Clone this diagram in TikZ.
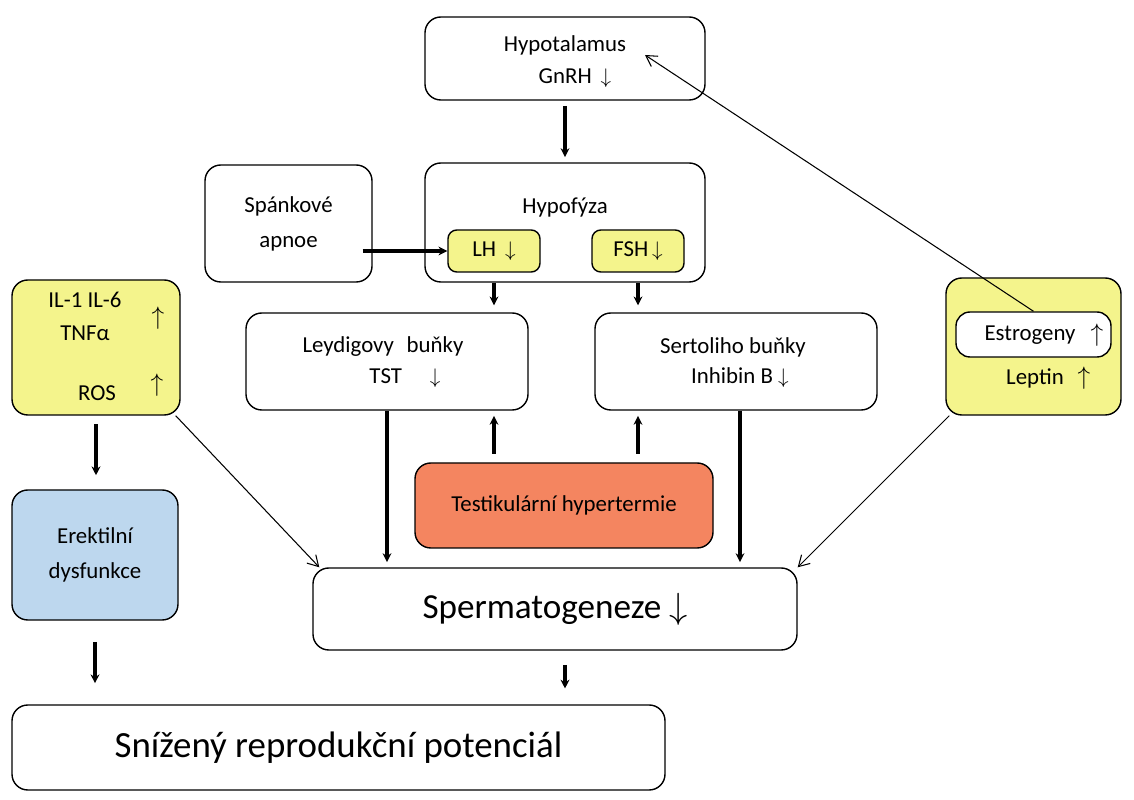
\documentclass[tikz,border=0pt]{standalone}
\usepackage{fontspec}
\setmainfont{Carlito}
\usetikzlibrary{arrows.meta}
\begin{document}
\begin{tikzpicture}[x=0.02cm,y=-0.02cm,
  box/.style 2 args={draw=black,line width=0.8pt,rounded corners=9pt,minimum width=#1*0.02cm,minimum height=#2*0.02cm,inner sep=0pt,align=center,font=\fontsize{13}{16}\selectfont},
  yel/.style={fill={rgb,255:red,244;green,244;blue,140}},
  thick arr/.style={line width=1.8pt,-{Stealth[length=5pt,width=5pt]}},
  thin arr/.style={line width=0.6pt,-{Straight Barb[length=6pt,width=7pt]}},
  txt/.style={font=\fontsize{13}{16}\selectfont,inner sep=0pt}]
\useasboundingbox (0,0) rectangle (1134,800);
\node[box={280}{83}] (hypot) at (565,58.5) {};
\node[txt] at (565,45) {Hypotalamus};
\node[txt] at (575,78) {GnRH \,$\downarrow$};
\node[box={280}{119}] (hypof) at (565,222.5) {};
\node[txt] at (565,208) {Hypofýza};
\node[box={92}{42},yel,rounded corners=5pt] (lh) at (494,251) {LH \,$\downarrow$};
\node[box={92}{42},yel,rounded corners=5pt] (fsh) at (638,251) {FSH\,$\downarrow$};
\node[box={167}{117}] (spank) at (288.5,223.5) {Spánkové\\[4pt]apnoe};
\node[box={282}{97}] (leyd) at (387,361.5) {};
\node[txt] at (383,347) {Leydigovy\,\, buňky};
\node[txt] at (405,378) {TST \quad $\downarrow$};
\node[box={282}{97}] (sert) at (736,361.5) {};
\node[txt] at (733,347) {Sertoliho buňky};
\node[txt] at (740,378) {Inhibin B $\downarrow$};
\node[box={168}{135},yel] (il) at (96,347.5) {};
\node[txt] at (85,300) {IL-1 IL-6};
\node[txt] at (85,333) {TNFα};
\node[txt,font=\Large] at (158,318) {$\uparrow$};
\node[txt] at (97,393) {ROS};
\node[txt,font=\Large] at (157,385) {$\uparrow$};
\node[box={175}{137},yel] (estro) at (1033.5,346.5) {};
\node[box={155}{45},fill=white,rounded corners=8pt] (inner) at (1033.5,334.5) {};
\node[txt] at (1030,335) {Estrogeny};
\node[txt,font=\Large] at (1097,335) {$\uparrow$};
\node[txt] at (1035,378) {Leptin};
\node[txt,font=\Large] at (1084,378) {$\uparrow$};
\node[box={298}{85},fill={rgb,255:red,244;green,133;blue,96}] (test) at (564,505.5) {Testikulární hypertermie};
\node[box={166}{130},fill={rgb,255:red,189;green,215;blue,238}] (erek) at (95,555) {Erektilní\\[4pt]dysfunkce};
\node[box={484}{82},font=\fontsize{20}{24}\selectfont] (sperm) at (555,609) {Spermatogeneze $\downarrow$};
\node[box={653}{85},font=\fontsize{21}{25}\selectfont] (sniz) at (338.5,747.5) {Snížený reprodukční potenciál};
\coordinate (hyt) at (645,55);
% connectors
\draw[thick arr,shorten <=3pt,shorten >=3pt] (hypot) -- (hypof);
\draw[thick arr] ([xshift=-0.2cm]spank.east|-lh) -- (lh.west);
\draw[thick arr,shorten >=4pt] (lh.south|-hypof.south) -- (lh.south|-leyd.north);
\draw[thick arr,shorten >=4pt] (fsh.south|-hypof.south) -- (fsh.south|-sert.north);
\draw[thick arr,shorten <=5pt,shorten >=3pt] (lh.south|-test.north) -- (lh.south|-leyd.south);
\draw[thick arr,shorten <=5pt,shorten >=3pt] (fsh.south|-test.north) -- (fsh.south|-sert.south);
\draw[thick arr,shorten >=3pt] (leyd.south) -- (leyd.south|-sperm.north);
\draw[thick arr,shorten >=3pt] ([xshift=0.08cm]sert.south) -- ([xshift=0.08cm]sert.south|-sperm.north);
\draw[thin arr] ([xshift=-0.1cm]il.south east) -- ([xshift=0.14cm]sperm.north west);
\draw[thin arr] ([xshift=0.08cm]estro.south west) -- (sperm.north east);
\draw[thin arr] (inner.north) -- (hyt);
\draw[thick arr,shorten <=5pt,shorten >=8pt] (il.south) -- (il.south|-erek.north);
\draw[thick arr,shorten <=12pt,shorten >=12pt] (erek.south) -- (erek.south|-sniz.north);
\draw[thick arr,shorten <=8pt,shorten >=9pt] ([xshift=0.2cm]sperm.south) -- ([xshift=0.2cm]sperm.south|-sniz.north);
\end{tikzpicture}
\end{document}
